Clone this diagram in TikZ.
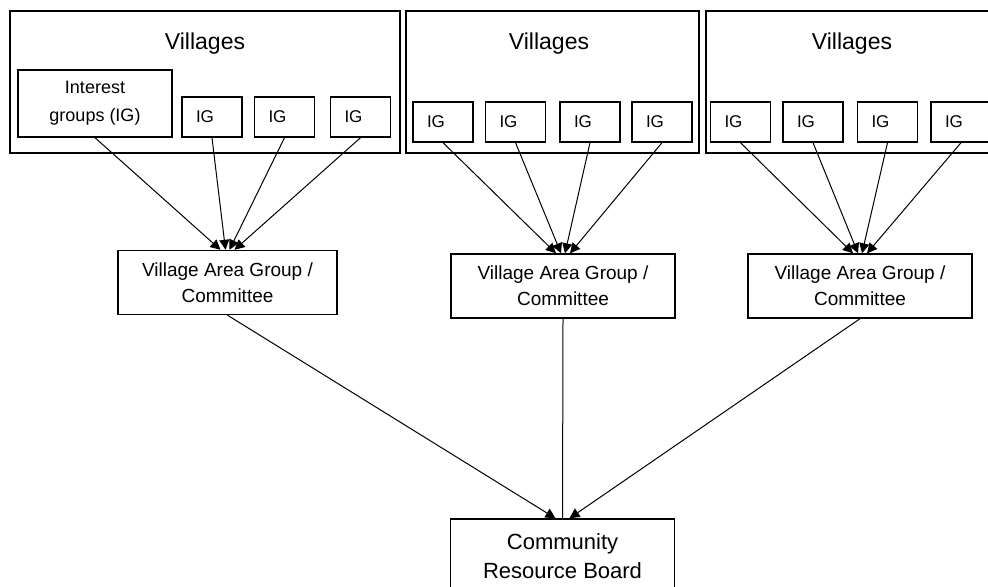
\documentclass[tikz,border=0pt]{standalone}
\usepackage{fontspec}
\setmainfont{Liberation Sans}
\usetikzlibrary{arrows.meta}

\begin{document}
\begin{tikzpicture}[
x=0.5pt, y=-0.5pt,
village/.style={draw, line width=0.7pt, minimum height=71pt, inner sep=0pt},
ig/.style={
	draw, line width=0.7pt,
	minimum width=30pt, minimum height=20pt, inner sep=0pt,
	text width=16pt, align=left,
	font=\fontsize{8.5}{10}\selectfont
},
vag/.style={
	draw, line width=0.7pt,
	minimum width=112pt, minimum height=32pt, inner sep=0pt,
	align=center, font=\fontsize{9.5}{13}\selectfont
},
title/.style={font=\fontsize{11.5}{13}\selectfont},
>={Triangle[length=5pt,width=5pt]}, line width=0.5pt
]
\useasboundingbox (0,0) rectangle (988,587);
% village frames
\node[village, minimum width=195pt] (V1) at (205,82) {};
\node[village, minimum width=146.5pt] (V2) at (552.5,82) {};
\node[village, minimum width=146pt] (V3) at (852,82) {};
\node[title] (T1) at (205,44) {Villages};
\node[title] (T2) at (549,44) {Villages};
\node[title] (T3) at (852,44) {Villages};
% interest groups
\node[ig, minimum width=77pt, minimum height=33.5pt, text width=, align=center,
	font=\fontsize{9}{14}\selectfont] (a0) at (95,103.5) {Interest\\groups (IG)};
\node[ig] (a1) at (212,117) {IG};
\node[ig] (a2) at (284.5,117) {IG};
\node[ig] (a3) at (360.5,117) {IG};
\node[ig] (b0) at (443,122) {IG};
\node[ig] (b1) at (515.5,122) {IG};
\node[ig] (b2) at (590,122) {IG};
\node[ig] (b3) at (662,122) {IG};
\node[ig] (c0) at (740.5,122) {IG};
\node[ig] (c1) at (813,122) {IG};
\node[ig] (c2) at (887.5,122) {IG};
\node[ig] (c3) at (961,122) {IG};
% area groups and board
\node[vag, minimum width=109.5pt] (A) at (227.5,282.5) {Village Area Group /\\Committee};
\node[vag] (B) at (563,286) {Village Area Group /\\Committee};
\node[vag] (C) at (860,286) {Village Area Group /\\Committee};
\node[vag, minimum height=37pt, font=\fontsize{11}{14.5}\selectfont]
	(R) at (562.5,556) {Community\\Resource Board};
\foreach \g/\t in {a/A,b/B,c/C}
{
	\foreach \i/\s in {0/-3.5,1/-1,2/1,3/3.5}
		\draw[->] (\g\i.south) -- ([xshift=\s pt]\t.north);
}
\draw[->] (A.south) -- ([xshift=-3.5pt]R.north);
\draw (B.south) -- (R.north);
\draw[->] (C.south) -- ([xshift=3.5pt]R.north);
\end{tikzpicture}
\end{document}
